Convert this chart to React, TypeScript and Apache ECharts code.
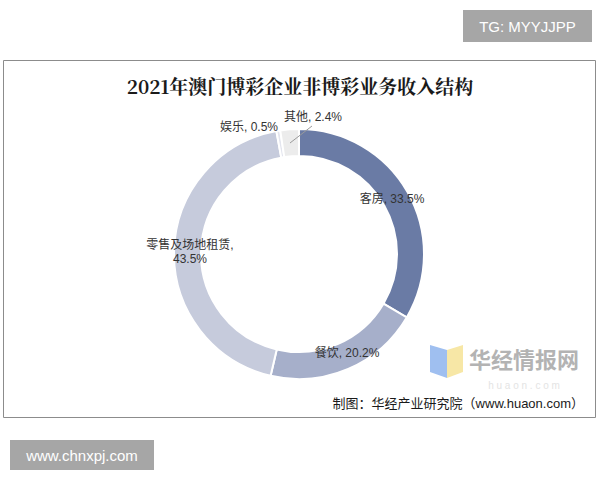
import React, { useEffect, useRef } from "react";
import * as echarts from "echarts";

const categories = ["客房", "餐饮", "零售及场地租赁", "娱乐", "其他"];
const values = [33.5, 20.2, 43.5, 0.5, 2.4];
const colors = ["#6a7ba5", "#a6afca", "#c6cbdc", "#e3e5ee", "#ececec"];
const labelPositions: [number, number][] = [
  [392, 199],
  [347, 353],
  [190, 252],
  [249, 127],
  [313, 117],
];
const titleText = "2021年澳门博彩企业非博彩业务收入结构";
const sourceText = "制图：华经产业研究院（www.huaon.com）";

export default function App() {
  const ref = useRef<HTMLDivElement>(null);
  useEffect(() => {
    if (!ref.current) return;
    const chart = echarts.init(ref.current, null, { renderer: "svg" });
    const font = '"Liberation Sans", "Noto Sans CJK SC", sans-serif';
    chart.setOption({
      animation: false,
      backgroundColor: "#ffffff",
      title: {
        text: titleText,
        left: "center",
        top: 71,
        textStyle: {
          fontFamily: '"Noto Serif CJK SC", "DejaVu Serif", "Noto Sans CJK SC", serif',
          fontWeight: "bold",
          fontSize: 19,
          color: "#1a1a1a",
        },
      },
      graphic: [
        {
          type: "rect",
          shape: { x: 3.5, y: 60.5, width: 592, height: 357 },
          style: { fill: "none", stroke: "#8c8c8c", lineWidth: 1 },
          z: -1,
        },
        {
          type: "rect",
          shape: { x: 463, y: 10, width: 129, height: 32 },
          style: { fill: "#a6a6a6" },
        },
        {
          type: "text",
          x: 527.5,
          y: 26,
          style: {
            text: "TG: MYYJJPP",
            fill: "#ffffff",
            font: '15px "Liberation Sans", sans-serif',
            align: "center",
            verticalAlign: "middle",
          },
        },
        {
          type: "rect",
          shape: { x: 10, y: 440, width: 144, height: 30 },
          style: { fill: "#a6a6a6" },
        },
        {
          type: "text",
          x: 82,
          y: 455,
          style: {
            text: "www.chnxpj.com",
            fill: "#ffffff",
            font: '15px "Liberation Sans", sans-serif',
            align: "center",
            verticalAlign: "middle",
          },
        },
        {
          type: "polygon",
          shape: { points: [[430, 345], [447, 350], [447, 378], [430, 372]] },
          style: { fill: "#9fbff0" },
        },
        {
          type: "polygon",
          shape: { points: [[447, 350], [463, 345], [463, 372], [447, 378]] },
          style: { fill: "#f7e7a6" },
        },
        {
          type: "text",
          x: 524,
          y: 358,
          style: {
            text: "华经情报网",
            fill: "#b3b3b3",
            font: 'bold 22px "Noto Sans CJK SC", sans-serif',
            align: "center",
            verticalAlign: "middle",
          },
        },
        {
          type: "text",
          x: 524,
          y: 385,
          style: {
            text: "h u a o n . c o m",
            fill: "#e4e4e4",
            font: '10px "Liberation Sans", sans-serif',
            align: "center",
            verticalAlign: "middle",
          },
        },
        {
          type: "line",
          shape: { x1: 290, y1: 143, x2: 312, y2: 126 },
          style: { stroke: "#9a9a9a", lineWidth: 1 },
          z: 10,
        },
        {
          type: "text",
          x: 584,
          y: 403,
          style: {
            text: sourceText,
            fill: "#1a1a1a",
            font: '13px "Liberation Sans", "Noto Sans CJK SC", sans-serif',
            align: "right",
            verticalAlign: "middle",
          },
        },
      ],
      series: [
        {
          type: "pie",
          center: [299, 254],
          radius: [98, 125],
          startAngle: 90,
          clockwise: true,
          avoidLabelOverlap: false,
          itemStyle: { borderColor: "#ffffff", borderWidth: 2 },
          label: {
            show: true,
            fontFamily: font,
            fontSize: 12,
            color: "#333333",
            lineHeight: 14,
            align: "center",
            formatter: (p: any) =>
              p.dataIndex === 2
                ? `${p.name},\n${p.value.toFixed(1)}%`
                : `${p.name}, ${p.value.toFixed(1)}%`,
          },
          labelLine: { show: false },
          labelLayout: (p: any) => ({
            x: labelPositions[p.dataIndex][0],
            y: labelPositions[p.dataIndex][1],
            align: "center",
            verticalAlign: "middle",
          }),
          data: categories.map((name, i) => ({
            name,
            value: values[i],
            itemStyle: { color: colors[i] },
          })),
        },
      ],
    });
    return () => chart.dispose();
  }, []);
  return (
    <div
      ref={ref}
      style={{ position: "fixed", left: 0, top: 0, width: 600, height: 480 }}
    />
  );
}
